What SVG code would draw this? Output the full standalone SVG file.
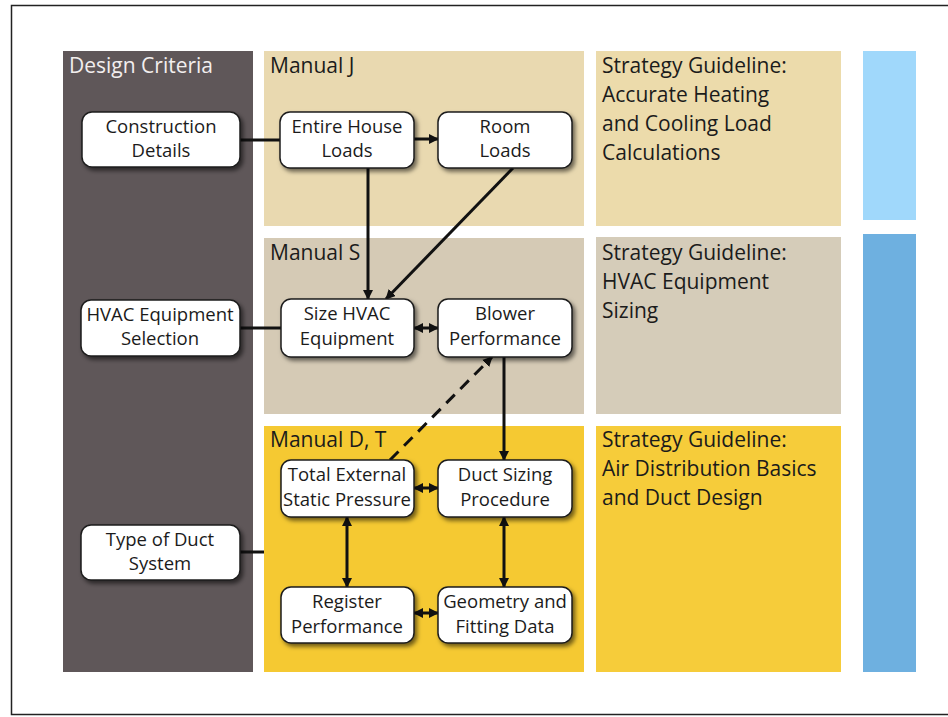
<svg xmlns="http://www.w3.org/2000/svg" width="948" height="717" viewBox="0 0 948 717">
<defs>
<style>
.lbl{font-family:"Open Sans","Liberation Sans",sans-serif;font-size:21px;fill:#1b1b1b}
.sg{font-family:"Open Sans","Liberation Sans",sans-serif;font-size:21px;fill:#1b1b1b}
.nt{font-family:"Open Sans","Liberation Sans",sans-serif;font-size:18.5px;fill:#1b1b1b;text-anchor:middle}
.box{fill:#ffffff;stroke:#1e1e1e;stroke-width:1.5;filter:url(#sh)}
.ln{stroke:#111;stroke-width:3;fill:none}
</style>
<filter id="sh" x="-10%" y="-10%" width="130%" height="140%">
<feDropShadow dx="2.5" dy="3" stdDeviation="2" flood-color="#000" flood-opacity="0.55"/>
</filter>
<marker id="ah" viewBox="0 0 10 10" refX="9" refY="5" markerWidth="10" markerHeight="10" markerUnits="userSpaceOnUse" orient="auto-start-reverse">
<path d="M0,0 L10,5 L0,10 Z" fill="#111"/>
</marker>
</defs>
<rect x="0" y="0" width="948" height="717" fill="#ffffff"/>
<rect x="11.5" y="5.5" width="945" height="709" fill="none" stroke="#222" stroke-width="1.5"/>

<g id="panels">
<rect x="63" y="51" width="190" height="621" fill="#5f5759"/>
<rect x="264" y="51" width="320" height="175" fill="#e9d9b0"/>
<rect x="264" y="238" width="320" height="176" fill="#d5cab5"/>
<rect x="264" y="426" width="320" height="246" fill="#f5c932"/>
<rect x="596" y="51" width="245" height="175" fill="#ecdbab"/>
<rect x="596" y="237" width="245" height="177" fill="#d5ccb9"/>
<rect x="596" y="426" width="245" height="246" fill="#f6cc3a"/>
<rect x="863" y="51" width="53" height="169" fill="#a0d8fb"/>
<rect x="863" y="234" width="53" height="438" fill="#6eb0e0"/>
</g>

<g id="labels">
<text x="69" y="73" class="lbl" style="fill:#f2eeee">Design Criteria</text>
<text x="270" y="73" class="lbl">Manual J</text>
<text x="270" y="260" class="lbl">Manual S</text>
<text x="270" y="447" class="lbl">Manual D, T</text>
<text class="sg"><tspan x="602" y="73">Strategy Guideline:</tspan><tspan x="602" y="102">Accurate Heating</tspan><tspan x="602" y="131">and Cooling Load</tspan><tspan x="602" y="160">Calculations</tspan></text>
<text class="sg"><tspan x="602" y="260">Strategy Guideline:</tspan><tspan x="602" y="289">HVAC Equipment</tspan><tspan x="602" y="318">Sizing</tspan></text>
<text class="sg"><tspan x="602" y="447">Strategy Guideline:</tspan><tspan x="602" y="476">Air Distribution Basics</tspan><tspan x="602" y="505">and Duct Design</tspan></text>
</g>

<g id="connectors">
<line x1="240" y1="140" x2="281" y2="140" class="ln" stroke-width="4"/>
<line x1="240" y1="328" x2="281" y2="328" class="ln" stroke-width="4"/>
<line x1="240" y1="552" x2="264" y2="552" class="ln" stroke-width="4"/>
<line x1="414" y1="139" x2="438" y2="139" class="ln" marker-end="url(#ah)"/>
<line x1="368" y1="168" x2="368" y2="299" class="ln" marker-end="url(#ah)"/>
<line x1="513" y1="168" x2="386" y2="299" class="ln" marker-end="url(#ah)"/>
<line x1="414" y1="328" x2="438" y2="328" class="ln" marker-start="url(#ah)" marker-end="url(#ah)"/>
<line x1="504" y1="357" x2="504" y2="460" class="ln" marker-end="url(#ah)"/>
<line x1="390" y1="460" x2="492" y2="357" class="ln" stroke-dasharray="12,8" marker-end="url(#ah)"/>
<line x1="414" y1="488" x2="438" y2="488" class="ln" marker-start="url(#ah)" marker-end="url(#ah)"/>
<line x1="347" y1="517" x2="347" y2="587" class="ln" marker-start="url(#ah)" marker-end="url(#ah)"/>
<line x1="504" y1="517" x2="504" y2="587" class="ln" marker-start="url(#ah)" marker-end="url(#ah)"/>
<line x1="414" y1="613" x2="438" y2="613" class="ln" marker-start="url(#ah)" marker-end="url(#ah)"/>
</g>

<g id="n-construction"><rect x="82" y="112" width="158" height="55" rx="10" class="box"/><text class="nt"><tspan x="161" y="133">Construction</tspan><tspan x="161" y="157">Details</tspan></text></g>
<g id="n-hvacsel"><rect x="81" y="300" width="159" height="56" rx="10" class="box"/><text class="nt"><tspan x="160" y="321">HVAC Equipment</tspan><tspan x="160" y="345">Selection</tspan></text></g>
<g id="n-ducttype"><rect x="81" y="525" width="159" height="55" rx="10" class="box"/><text class="nt"><tspan x="160" y="546">Type of Duct</tspan><tspan x="160" y="570">System</tspan></text></g>
<g id="n-entire"><rect x="280" y="112" width="134" height="56" rx="10" class="box"/><text class="nt"><tspan x="347" y="133">Entire House</tspan><tspan x="347" y="157">Loads</tspan></text></g>
<g id="n-room"><rect x="438" y="112" width="134" height="56" rx="10" class="box"/><text class="nt"><tspan x="505" y="133">Room</tspan><tspan x="505" y="157">Loads</tspan></text></g>
<g id="n-size"><rect x="281" y="299" width="133" height="58" rx="10" class="box"/><text class="nt"><tspan x="347" y="320">Size HVAC</tspan><tspan x="347" y="345">Equipment</tspan></text></g>
<g id="n-blower"><rect x="438" y="299" width="134" height="58" rx="10" class="box"/><text class="nt"><tspan x="505" y="320">Blower</tspan><tspan x="505" y="345">Performance</tspan></text></g>
<g id="n-tesp"><rect x="281" y="460" width="133" height="57" rx="10" class="box"/><text class="nt"><tspan x="347" y="481">Total External</tspan><tspan x="347" y="506">Static Pressure</tspan></text></g>
<g id="n-ductsizing"><rect x="438" y="460" width="134" height="57" rx="10" class="box"/><text class="nt"><tspan x="505" y="481">Duct Sizing</tspan><tspan x="505" y="506">Procedure</tspan></text></g>
<g id="n-register"><rect x="281" y="587" width="133" height="56" rx="10" class="box"/><text class="nt"><tspan x="347" y="608">Register</tspan><tspan x="347" y="633">Performance</tspan></text></g>
<g id="n-geometry"><rect x="438" y="587" width="134" height="56" rx="10" class="box"/><text class="nt"><tspan x="505" y="608">Geometry and</tspan><tspan x="505" y="633">Fitting Data</tspan></text></g>
</svg>
